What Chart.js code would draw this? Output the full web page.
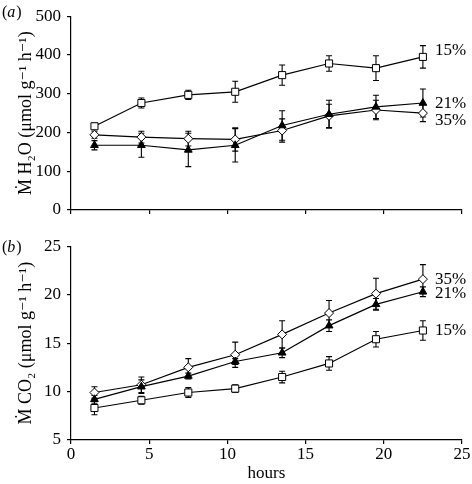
<!DOCTYPE html>
<html>
<head>
<meta charset="utf-8">
<script src="https://cdn.jsdelivr.net/npm/chart.js@4"></script>
<style>
  html, body { margin: 0; padding: 0; background: #fff; }
  .panel { position: relative; width: 472px; }
  #panelA { height: 230px; }
  #panelB { height: 254px; }
</style>
</head>
<body>
<div class="panel" id="panelA"><canvas id="chartA"></canvas></div>
<div class="panel" id="panelB"><canvas id="chartB"></canvas></div>
<script>
// Data
const hours = [1.5, 4.5, 7.5, 10.5, 13.5, 16.5, 19.5, 22.5];
const seriesNames = ['15%', '21%', '35%'];

// (a) water loss, umol g-1 h-1
const h2o15 = [216, 276, 297, 305, 348, 378, 366, 395];
const h2o15Err = [8, 13, 12, 27, 26, 20, 32, 29];
const h2o21 = [167, 167, 155, 167, 218, 247, 266, 276];
const h2o21Err = [12, 31, 43, 43, 38, 36, 30, 36];
const h2o35 = [194, 188, 184, 182, 205, 243, 258, 250];
const h2o35Err = [9, 15, 19, 30, 30, 30, 25, 22];

// (b) CO2 production, umol g-1 h-1
const co215 = [8.3, 9.1, 9.9, 10.3, 11.5, 12.9, 15.4, 16.3];
const co215Err = [0.7, 0.4, 0.5, 0.4, 0.6, 0.7, 0.8, 1.0];
const co221 = [9.2, 10.5, 11.6, 13.1, 14.0, 16.8, 19.0, 20.3];
const co221Err = [0.4, 0.7, 0.3, 0.3, 0.5, 0.6, 0.6, 0.5];
const co235 = [9.9, 10.7, 12.5, 13.8, 15.9, 18.1, 20.1, 21.6];
const co235Err = [0.6, 0.8, 0.9, 1.3, 1.4, 1.3, 1.6, 1.5];

const yTicksA = [0, 100, 200, 300, 400, 500];
const yTicksB = [5, 10, 15, 20, 25];
const xTicks = [0, 5, 10, 15, 20, 25];

const SERIF = "'Liberation Serif', 'DejaVu Serif', serif";

// Markers per series: 15% open square, 21% filled triangle, 35% open diamond
const markerStyles = [
  { pointStyle: 'rect', pointRadius: 5, pointBackgroundColor: '#fff' },
  { pointStyle: 'triangle', pointRadius: 4.5, pointBackgroundColor: '#000' },
  { pointStyle: 'rectRot', pointRadius: 4.5, pointBackgroundColor: '#fff' }
];

function makeDatasets(values, errors) {
  return values.map((vals, i) => ({
    label: seriesNames[i],
    data: hours.map((h, j) => ({ x: h, y: vals[j] })),
    errors: errors[i],
    borderColor: '#000',
    borderWidth: 1.2,
    pointBorderColor: '#000',
    pointBorderWidth: 1,
    pointStyle: markerStyles[i].pointStyle,
    pointRadius: markerStyles[i].pointRadius,
    pointBackgroundColor: markerStyles[i].pointBackgroundColor,
    tension: 0
  }));
}

// Vertical error bars with caps, drawn under the markers
const errorBars = {
  id: 'errorBars',
  beforeDatasetsDraw(chart) {
    const ctx = chart.ctx;
    const yScale = chart.scales.y;
    ctx.save();
    ctx.strokeStyle = '#000';
    ctx.lineWidth = 1.1;
    chart.data.datasets.forEach((ds, i) => {
      const meta = chart.getDatasetMeta(i);
      meta.data.forEach((pt, j) => {
        const v = ds.data[j].y;
        const e = ds.errors[j];
        const yTop = yScale.getPixelForValue(v + e);
        const yBot = yScale.getPixelForValue(v - e);
        ctx.beginPath();
        ctx.moveTo(pt.x, yTop);
        ctx.lineTo(pt.x, yBot);
        ctx.moveTo(pt.x - 3, yTop);
        ctx.lineTo(pt.x + 3, yTop);
        ctx.moveTo(pt.x - 3, yBot);
        ctx.lineTo(pt.x + 3, yBot);
        ctx.stroke();
      });
    });
    ctx.restore();
  }
};

// Series names at the end of each line, and the panel letter
const endLabels = {
  id: 'endLabels',
  afterDatasetsDraw(chart, args, opts) {
    const ctx = chart.ctx;
    ctx.save();
    ctx.fillStyle = '#000';
    ctx.font = '17px ' + SERIF;
    ctx.textBaseline = 'middle';
    ctx.textAlign = 'left';
    chart.data.datasets.forEach((ds, i) => {
      const meta = chart.getDatasetMeta(i);
      const last = meta.data[meta.data.length - 1];
      ctx.fillText(ds.label, last.x + 12, last.y + opts.dy[i]);
    });
    // panel letter: "(a)" with italic letter
    ctx.font = '16px ' + SERIF;
    let x = 2;
    ctx.fillText('(', x, opts.letterY);
    x += ctx.measureText('(').width;
    ctx.font = 'italic 16px ' + SERIF;
    ctx.fillText(opts.letter, x, opts.letterY);
    x += ctx.measureText(opts.letter).width + 1;
    ctx.font = '16px ' + SERIF;
    ctx.fillText(')', x, opts.letterY);
    ctx.restore();
  }
};

function makeOptions(cfg) {
  return {
    responsive: true,
    maintainAspectRatio: false,
    animation: false,
    layout: { padding: { top: cfg.padTop, right: 10, left: 0, bottom: 0 } },
    plugins: {
      legend: { display: false },
      tooltip: { enabled: false },
      endLabels: { dy: cfg.labelDy, letter: cfg.letter, letterY: cfg.letterY }
    },
    scales: {
      x: {
        type: 'linear',
        min: 0,
        max: 25,
        afterBuildTicks: s => { s.ticks = xTicks.map(v => ({ value: v })); },
        afterFit: s => { s.height = cfg.xHeight; },
        grid: { drawOnChartArea: false, drawTicks: true, tickLength: 4, color: '#000', lineWidth: 1.2 },
        border: { color: '#000', width: 1.2 },
        ticks: {
          color: '#000',
          padding: 0,
          font: { family: SERIF, size: 17 },
          callback: v => (cfg.showX ? v : '')
        },
        title: {
          display: cfg.showX,
          text: 'hours',
          color: '#000',
          padding: { top: 0, bottom: 0 },
          font: { family: SERIF, size: 17 }
        }
      },
      y: {
        min: cfg.yTicks[0],
        max: cfg.yTicks[cfg.yTicks.length - 1],
        afterBuildTicks: s => { s.ticks = cfg.yTicks.map(v => ({ value: v })); },
        afterFit: s => { s.width = 71; },
        grid: { drawOnChartArea: false, drawTicks: true, tickLength: 4, color: '#000', lineWidth: 1.2 },
        border: { color: '#000', width: 1.2 },
        ticks: { color: '#000', padding: 6, font: { family: SERIF, size: 17 } },
        title: {
          display: true,
          text: cfg.yTitle,
          color: '#000',
          padding: { top: 15, bottom: 0 },
          font: { family: SERIF, size: 18 }
        }
      }
    }
  };
}

new Chart(document.getElementById('chartA'), {
  type: 'line',
  data: { datasets: makeDatasets([h2o15, h2o21, h2o35], [h2o15Err, h2o21Err, h2o35Err]) },
  options: makeOptions({
    padTop: 11, xHeight: 20, showX: false, yTicks: yTicksA,
    yTitle: 'Ṁ H₂O (μmol g⁻¹ h⁻¹)',
    labelDy: [-6, 1, 7], letter: 'a', letterY: 13
  }),
  plugins: [errorBars, endLabels]
});

new Chart(document.getElementById('chartB'), {
  type: 'line',
  data: { datasets: makeDatasets([co215, co221, co235], [co215Err, co221Err, co235Err]) },
  options: makeOptions({
    padTop: 15, xHeight: 44, showX: true, yTicks: yTicksB,
    yTitle: 'Ṁ CO₂ (μmol g⁻¹ h⁻¹)',
    labelDy: [0, 2, 0], letter: 'b', letterY: 18
  }),
  plugins: [errorBars, endLabels]
});
</script>
</body>
</html>
